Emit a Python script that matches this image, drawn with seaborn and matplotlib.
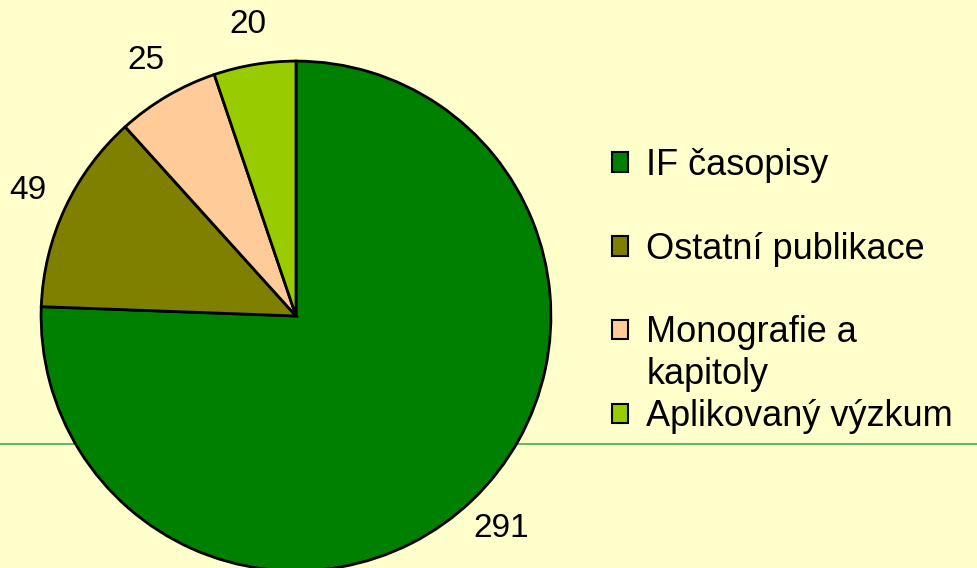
import matplotlib.pyplot as plt
import seaborn as sns
from matplotlib.lines import Line2D
from matplotlib.patches import Patch

# data
categories = ["IF časopisy", "Ostatní publikace", "Monografie a kapitoly", "Aplikovaný výzkum"]
values = [291, 49, 25, 20]
colors = ["#008000", "#808000", "#FFCC99", "#99CC00"]
bg = "#FFFFCC"

sns.set_style("white")
plt.rcParams["font.family"] = ["Liberation Sans", "DejaVu Sans"]
plt.rcParams["text.color"] = "black"

fig = plt.figure(figsize=(9.77, 5.68), dpi=100, facecolor=bg)

# thin green rule across the slide, behind the pie
fig.add_artist(Line2D([0, 1], [0.218, 0.218], transform=fig.transFigure,
                      color="#66B866", lw=1.5, zorder=-1))

# pie: center (296, 316) px from top, radius 255 px
ax = fig.add_axes([36 / 977, -8 / 568, 520 / 977, 520 / 568])
total = sum(values)
wedges, texts, autotexts = ax.pie(
    values, colors=colors, startangle=90, counterclock=False,
    wedgeprops=dict(edgecolor="black", linewidth=2),
    autopct=lambda p: f"{p * total / 100:.0f}", pctdistance=1.16,
    textprops=dict(fontsize=24, color="black"))
ax.set_xlim(-1.02, 1.02)
ax.set_ylim(-1.02, 1.02)
ax.set_aspect("equal")
ax.patch.set_visible(False)
ax.axis("off")

# legend: third label wraps, its second line goes under the first
first_line, second_line = categories[2].rsplit(" ", 1)
labels = [categories[0], categories[1], first_line, categories[3]]
handles = [Patch(facecolor=c, edgecolor="black", linewidth=1.5) for c in colors]
leg = fig.legend(handles, labels, loc="upper left",
                 bbox_to_anchor=(612 / 977, (568 - 148) / 568),
                 frameon=False, fontsize=26, borderpad=0, borderaxespad=0,
                 handlelength=0.45, handleheight=0.45, handletextpad=0.5,
                 labelspacing=1.35, labelcolor="black")
fig.canvas.draw()
plt.annotate(second_line, xy=(0, 0), xycoords=leg.get_texts()[2],
             xytext=(0, -7), textcoords="offset pixels",
             fontsize=26, va="top", ha="left", annotation_clip=False)

fig.savefig("out.png", dpi=100, facecolor=bg)
